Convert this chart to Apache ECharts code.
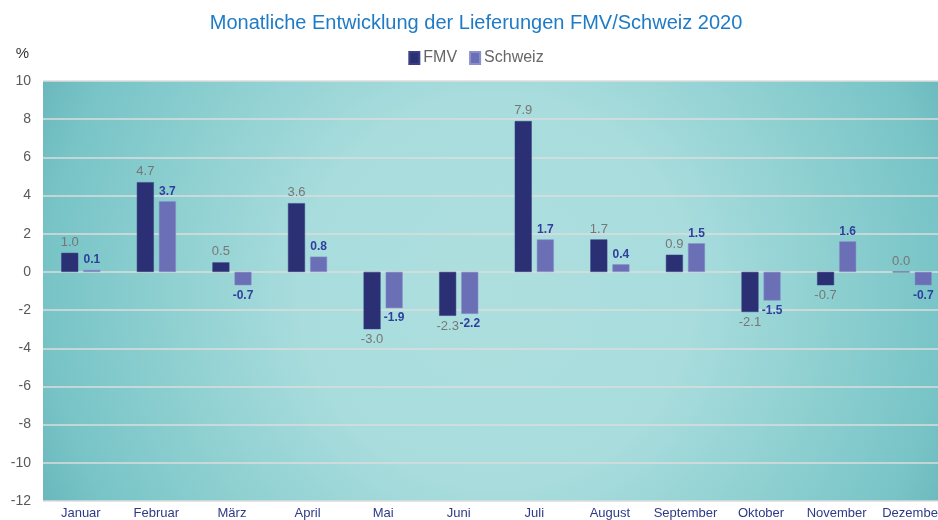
<!DOCTYPE html>
<html>
<head>
<meta charset="utf-8">
<script src="https://cdn.jsdelivr.net/npm/echarts@6/dist/echarts.min.js"></script>
<style>
  html, body { margin: 0; padding: 0; overflow: hidden; background: #fff; }
  #chart { width: 952px; height: 520px; }
</style>
</head>
<body>
<div id="chart"></div>
<script>
const months = ['Januar', 'Februar', 'März', 'April', 'Mai', 'Juni', 'Juli', 'August', 'September', 'Oktober', 'November', 'Dezember'];
const fmv = [1.0, 4.7, 0.5, 3.6, -3.0, -2.3, 7.9, 1.7, 0.9, -2.1, -0.7, 0.0];
const schweiz = [0.1, 3.7, -0.7, 0.8, -1.9, -2.2, 1.7, 0.4, 1.5, -1.5, 1.6, -0.7];

const chart = echarts.init(document.getElementById('chart'));

// put the label above positive bars and below negative ones
function withLabels(values) {
  return values.map(v => ({
    value: v,
    label: { position: v < 0 ? 'bottom' : 'top' }
  }));
}

chart.setOption({
  textStyle: { fontFamily: 'Liberation Sans, Arial, sans-serif' },
  title: {
    text: 'Monatliche Entwicklung der Lieferungen FMV/Schweiz 2020',
    left: 'center',
    top: 8,
    textStyle: { color: '#1f7bc6', fontSize: 20, fontWeight: 'normal' }
  },
  legend: {
    top: 45,
    left: 'center',
    itemWidth: 10,
    itemHeight: 12,
    itemGap: 12,
    icon: 'rect',
    textStyle: { color: '#666', fontSize: 16, padding: [0, 0, 0, -1] },
    data: ['FMV', 'Schweiz']
  },
  grid: {
    left: 43,
    width: 907,
    top: 81,
    height: 422,
    show: true,
    borderWidth: 0,
    backgroundColor: {
      type: 'radial',
      x: 0.5, y: 0.5, r: 1.18,
      colorStops: [
        { offset: 0, color: '#aedfdf' },
        { offset: 0.4, color: '#a8dcdd' },
        { offset: 0.66, color: '#8fd0d1' },
        { offset: 0.9, color: '#78c4c7' },
        { offset: 1, color: '#6cb9bd' }
      ]
    }
  },
  xAxis: {
    type: 'category',
    data: months,
    position: 'bottom',
    axisLine: { show: false, onZero: false },
    axisTick: { show: false },
    axisLabel: { color: '#2e3a87', fontSize: 13, margin: 6, interval: 0 }
  },
  yAxis: {
    type: 'value',
    min: -12,
    max: 10,
    interval: 2,
    name: '%',
    nameLocation: 'end',
    nameGap: 20,
    nameTextStyle: { color: '#333', fontSize: 15, align: 'right', padding: [0, 14, 0, 0] },
    axisLine: { show: false },
    axisTick: { show: false },
    axisLabel: { color: '#595959', fontSize: 14, margin: 12 },
    splitLine: { lineStyle: { color: '#dcdcdc', width: 1.5 } }
  },
  series: [
    {
      name: 'FMV',
      type: 'bar',
      barWidth: 17,
      barGap: '30%',
      itemStyle: { color: '#2b2f74', borderColor: '#3a3f86', borderWidth: 0.5 },
      label: {
        show: true,
        color: '#777',
        fontSize: 13,
        distance: 4,
        formatter: p => p.value.toFixed(1)
      },
      data: withLabels(fmv)
    },
    {
      name: 'Schweiz',
      type: 'bar',
      barWidth: 17,
      itemStyle: { color: '#6b6fb6', borderColor: '#8a8fcc', borderWidth: 0.5 },
      label: {
        show: true,
        color: '#2e3f9e',
        fontWeight: 'bold',
        fontSize: 12,
        distance: 4,
        formatter: p => p.value.toFixed(1)
      },
      data: withLabels(schweiz)
    }
  ]
});
</script>
</body>
</html>
